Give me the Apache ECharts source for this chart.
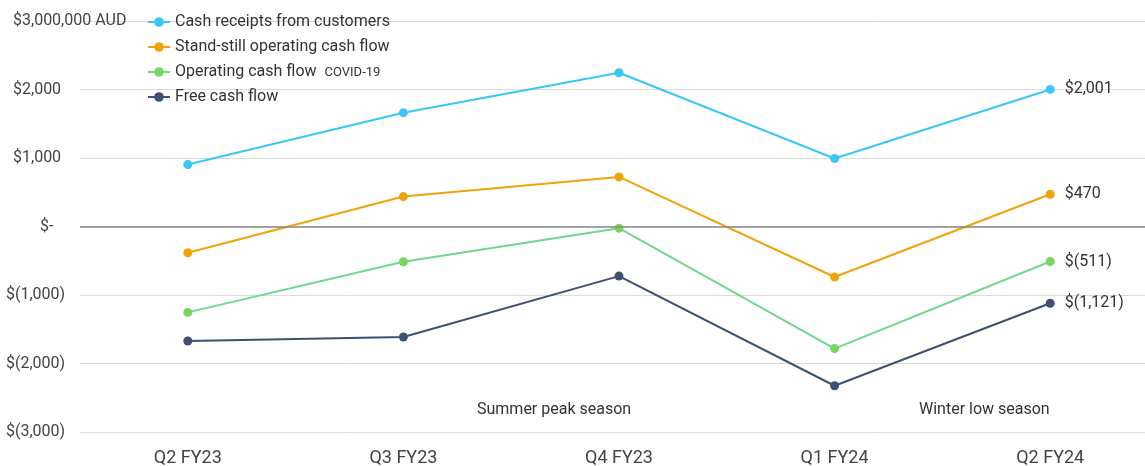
<!DOCTYPE html>
<html>
<head>
<meta charset="utf-8">
<script src="https://cdn.jsdelivr.net/npm/echarts@6/dist/echarts.min.js"></script>
<style>
  html, body { margin: 0; padding: 0; background: #fff; }
  #chart { width: 1145px; height: 466px; }
</style>
</head>
<body>
<div id="chart"></div>
<script>
// quarters on the x axis
const quarters = ['Q2 FY23', 'Q3 FY23', 'Q4 FY23', 'Q1 FY24', 'Q2 FY24']

// values in $ thousands AUD
const cashReceipts = [904, 1662, 2245, 992, 2001]
const standStill = [-384, 437, 724, -737, 470]
const operatingCovid = [-1254, -515, -24, -1782, -511]
const freeCashFlow = [-1672, -1613, -724, -2325, -1121]

const seriesNames = [
  'Cash receipts from customers',
  'Stand-still operating cash flow',
  'Operating cash flow',
  'Free cash flow'
]
const endLabels = ['$2,001', '$470', '$(511)', '$(1,121)']

// y axis tick labels
const yTicks = {
  '-3000': '$(3,000)',
  '-2000': '$(2,000)',
  '-1000': '$(1,000)',
  '0': '$-',
  '1000': '$1,000',
  '2000': '$2,000',
  '3000': '$3,000,000 AUD'
}

const seasons = ['Summer peak season', 'Winter low season']

const chart = echarts.init(document.getElementById('chart'))

const lineColors = ['#3ac6f6', '#f0a30a', '#6fd88c', '#3f5172']
const dotColors = ['#3ac6f6', '#f0a30a', '#7ad65e', '#3f5172']

const makeSeries = (name, data, i) => ({
  name: name,
  type: 'line',
  data: data,
  symbol: 'circle',
  symbolSize: 9,
  lineStyle: { width: 2, color: lineColors[i] },
  itemStyle: { color: dotColors[i] },
  label: {
    show: true,
    position: 'right',
    distance: 10,
    fontSize: 16,
    color: '#333',
    fontFamily: 'Roboto',
    formatter: (p) => (p.dataIndex === data.length - 1 ? endLabels[i] : '')
  },
  z: 5 - i
})

const series = [
  makeSeries(seriesNames[0], cashReceipts, 0),
  makeSeries(seriesNames[1], standStill, 1),
  makeSeries(seriesNames[2], operatingCovid, 2),
  makeSeries(seriesNames[3], freeCashFlow, 3)
]
// zero line
series[0].markLine = {
  silent: true,
  symbol: 'none',
  label: { show: false },
  lineStyle: { color: '#888', width: 1.5, type: 'solid' },
  data: [{ yAxis: 0 }]
}

const option = {
  animation: false,
  textStyle: { fontFamily: 'Roboto' },
  grid: { left: 80, width: 1078, top: 21, bottom: 34, containLabel: false, outerBoundsMode: 'none' },
  legend: {
    orient: 'vertical',
    left: 142,
    top: 9,
    itemWidth: 22,
    itemHeight: 12,
    itemGap: 9,
    textStyle: {
      fontSize: 16,
      color: '#333',
      fontFamily: 'Roboto',
      rich: { s: { fontSize: 13, color: '#333', padding: [2, 0, 0, 4] } }
    },
    formatter: (name) => (name === seriesNames[2] ? name + ' {s|COVID-19}' : name),
    data: seriesNames
  },
  xAxis: {
    type: 'category',
    data: quarters,
    axisLine: { show: false },
    axisTick: { show: false },
    axisLabel: { fontSize: 18, color: '#444', margin: 17 }
  },
  yAxis: {
    type: 'value',
    min: -3000,
    max: 3000,
    interval: 1000,
    axisLine: { show: false },
    axisTick: { show: false },
    splitLine: { lineStyle: { color: '#dcdcdc', width: 1 } },
    axisLabel: {
      fontSize: 16,
      color: '#444',
      align: 'left',
      margin: 74,
      formatter: (v) => {
        const t = yTicks[String(v)]
        if (v === 0) return '{z|' + t + '}'
        if (v > 0) return '{p|' + t + '}'
        return t
      },
      rich: {
        p: { fontSize: 16, color: '#444', padding: [0, 0, 0, 7] },
        z: { fontSize: 16, color: '#444', padding: [0, 0, 0, 34] }
      }
    }
  },
  graphic: [
    {
      type: 'text',
      left: 477,
      top: 402,
      style: { text: seasons[0], fontSize: 16, fill: '#333', fontFamily: 'Roboto' }
    },
    {
      type: 'text',
      left: 919,
      top: 402,
      style: { text: seasons[1], fontSize: 16, fill: '#333', fontFamily: 'Roboto' }
    }
  ],
  series: series
}

chart.setOption(option)
</script>
</body>
</html>
